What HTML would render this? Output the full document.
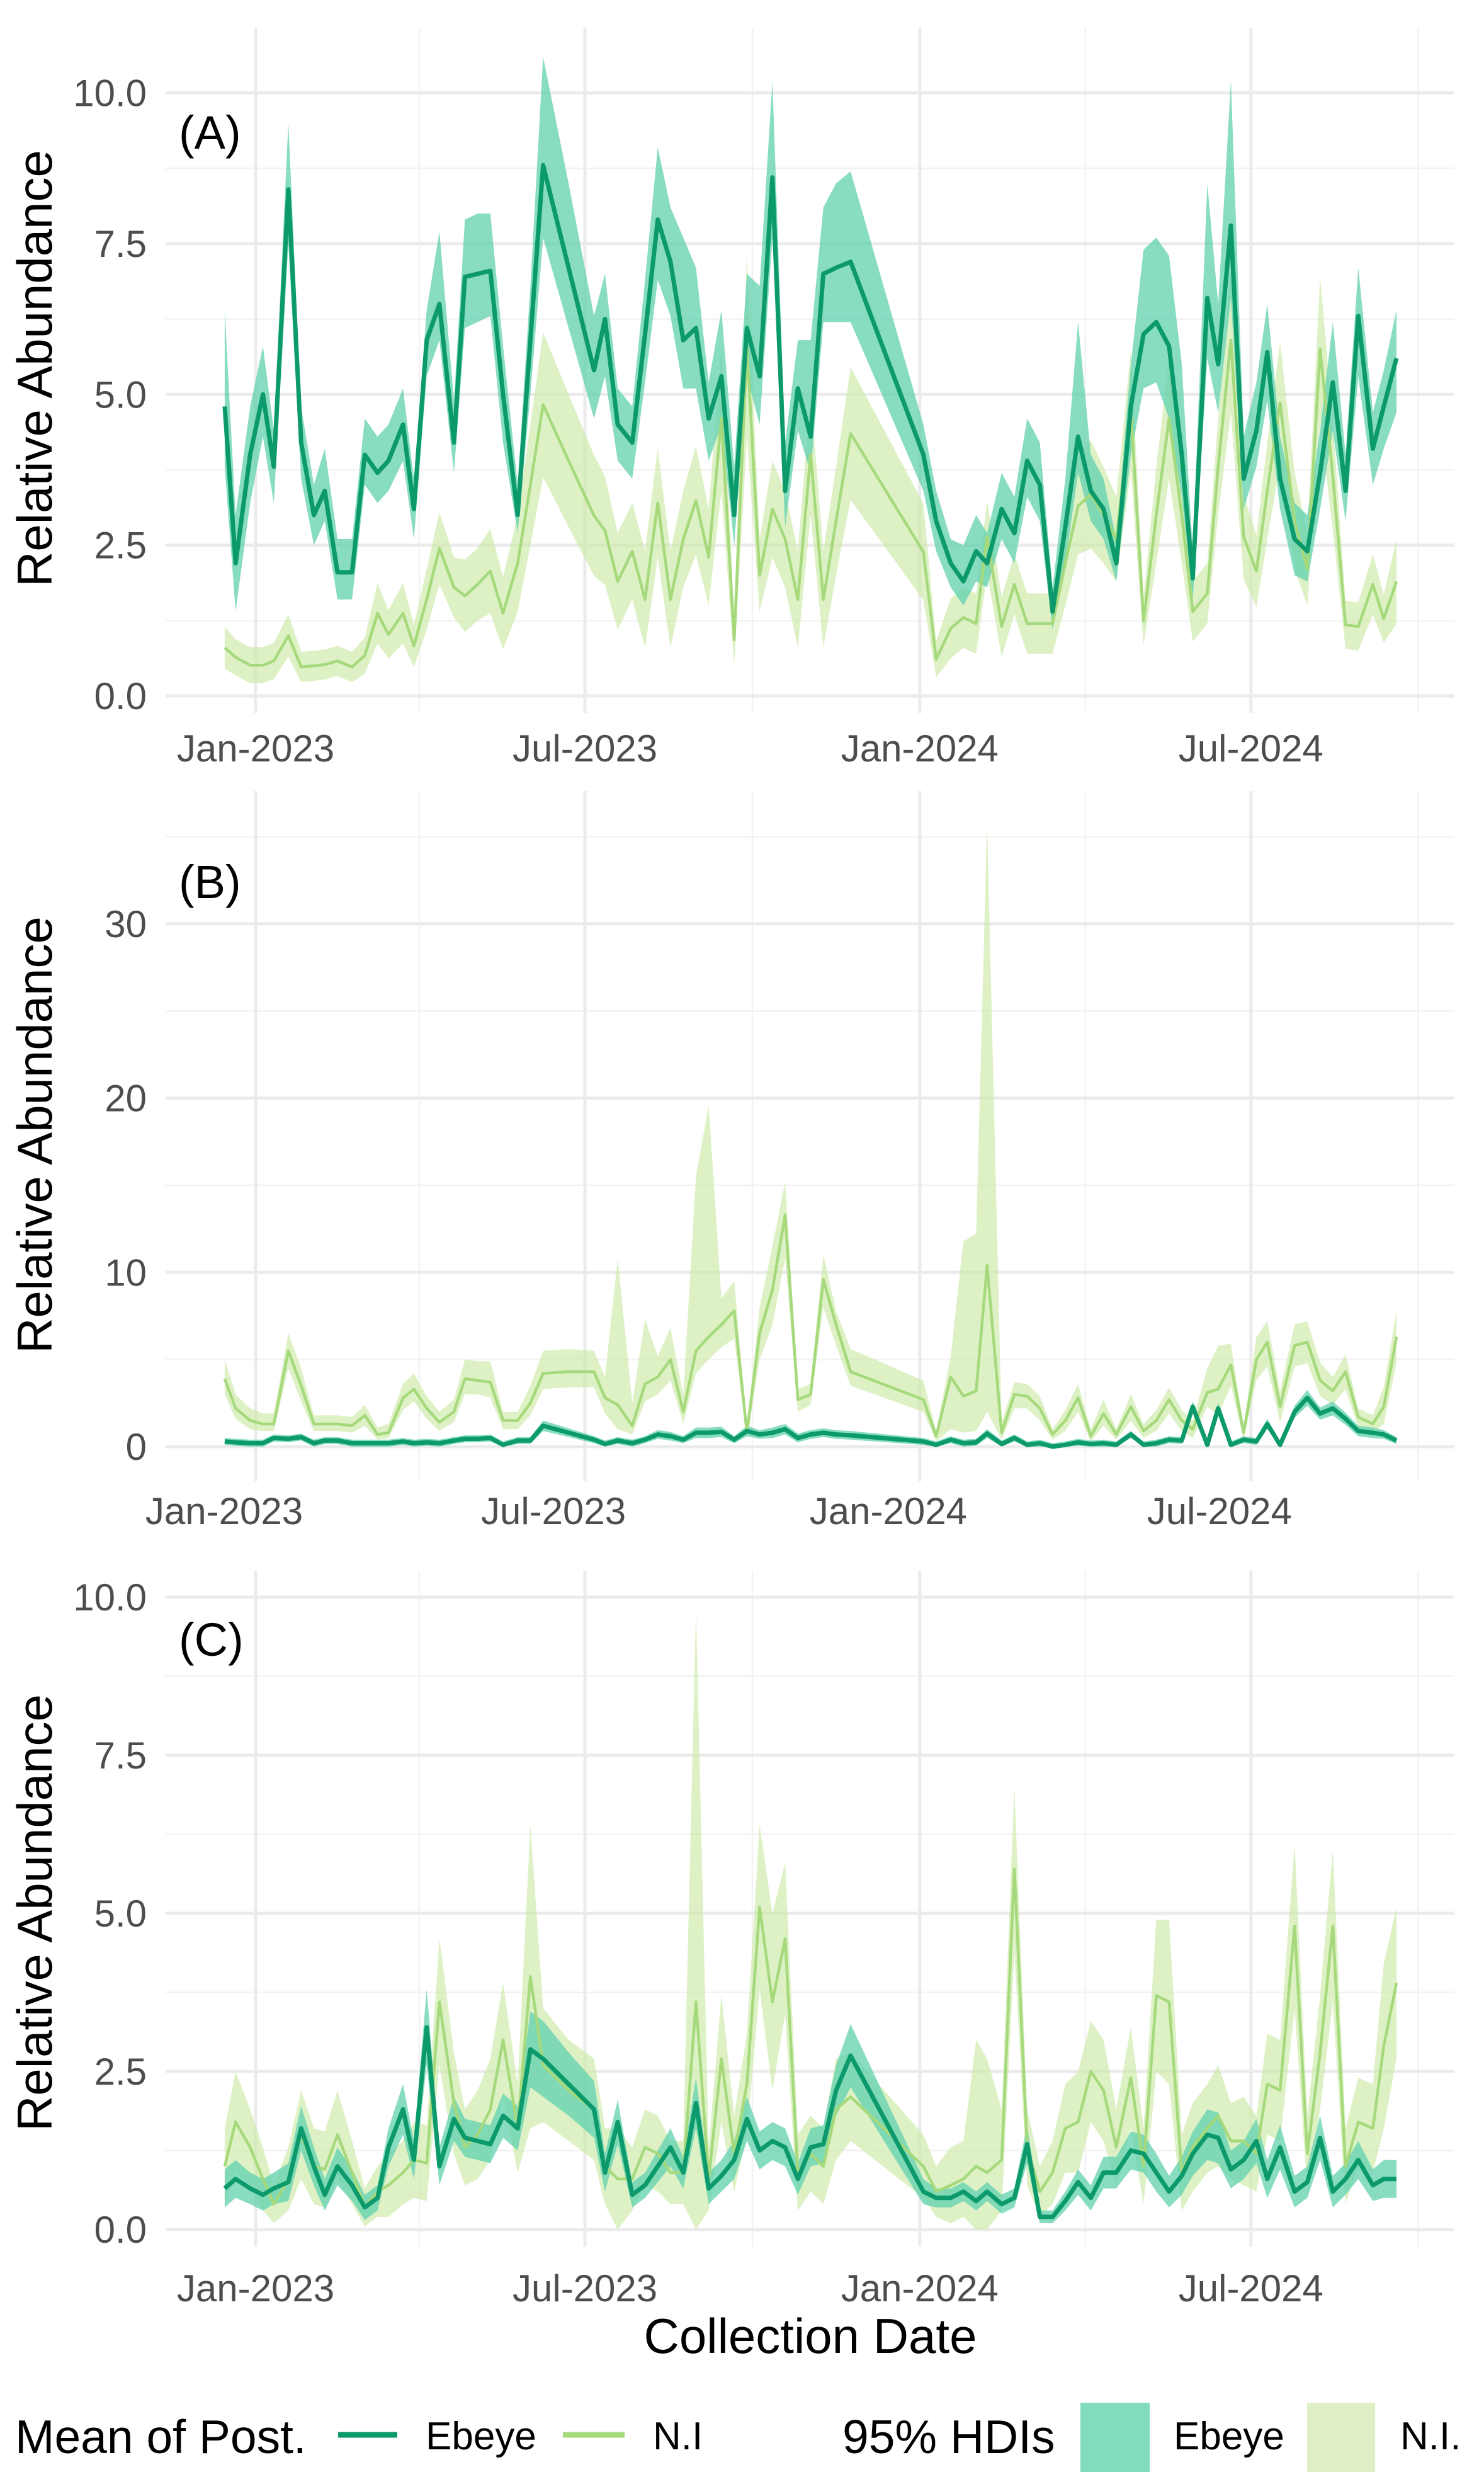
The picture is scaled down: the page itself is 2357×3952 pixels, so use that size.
<!DOCTYPE html>
<html><head><meta charset="utf-8"><style>
html,body{margin:0;padding:0;background:#fff;}
svg{display:block;font-family:"Liberation Sans",sans-serif;}
</style></head><body>
<svg id="chart" width="2357" height="3952" viewBox="0 0 2357 3952" xmlns="http://www.w3.org/2000/svg">
<rect x="0" y="0" width="2357" height="3952" fill="#fff"/>
<g id="grid"></g><g id="marks"></g><g id="labels"></g>
<text x="1287" y="3736" font-size="78" text-anchor="middle" fill="#000">Collection Date</text>
<g>
<text x="24" y="3895" font-size="75" fill="#000">Mean of Post.</text>
<line x1="537" y1="3866" x2="631" y2="3866" stroke="#0c9a6c" stroke-width="9"/>
<text x="676" y="3889" font-size="62" fill="#000">Ebeye</text>
<line x1="894" y1="3866" x2="992" y2="3866" stroke="#a6d97c" stroke-width="9"/>
<text x="1037" y="3889" font-size="62" fill="#000">N.I</text>
<text x="1338" y="3895" font-size="75" fill="#000">95% HDIs</text>
<rect x="1716" y="3815" width="110" height="110" fill="#80dbbf"/>
<text x="1864" y="3889" font-size="62" fill="#000">Ebeye</text>
<rect x="2076" y="3815" width="108" height="110" fill="#def0c4"/>
<text x="2224" y="3889" font-size="62" fill="#000">N.I.</text>
</g>
</svg>
<script>
// days since 2023-01-01
const dates=[-17,-11,-3,4,10,18,25,32,38,45,53,60,67,73,81,87,94,101,109,115,122,129,136,144,151,158,172,186,192,199,207,214,221,228,235,242,249,256,263,270,277,284,291,298,305,312,319,327,367,374,382,389,396,402,410,417,424,431,438,445,452,459,466,473,481,488,495,502,509,515,523,529,536,543,550,556,563,571,578,585,592,599,606,614,620,627];
const xTickLabels=["Jan-2023","Jul-2023","Jan-2024","Jul-2024"];
const xTickDays=[0,181,365,547];
const xMinorDays=[90,273,456,639];
// Panel A
const aEbMean=[4.8,2.2,4.0,5.0,3.8,8.4,4.2,3.0,3.4,2.05,2.05,4.0,3.7,3.9,4.5,3.1,5.9,6.5,4.2,6.95,7.0,7.05,5.0,3.0,5.9,8.8,7.1,5.4,6.25,4.5,4.2,6.0,7.9,7.2,5.9,6.1,4.6,5.3,3.0,6.1,5.3,8.6,3.4,5.1,4.3,7.0,7.1,7.2,4.0,2.9,2.2,1.9,2.4,2.2,3.1,2.7,3.9,3.5,1.4,2.8,4.3,3.4,3.1,2.2,4.8,6.0,6.2,5.8,4.0,1.95,6.6,5.5,7.8,3.6,4.4,5.7,3.6,2.6,2.4,3.7,5.2,3.4,6.3,4.1,4.8,5.6];
const aEbLo=[3.8,1.4,3.2,4.3,3.2,7.5,3.6,2.5,2.9,1.6,1.6,3.5,3.2,3.4,3.9,2.6,5.3,5.9,3.7,6.1,6.2,6.3,4.2,2.7,5.0,7.6,6.1,4.6,5.3,3.9,3.6,5.2,6.9,6.3,5.1,5.1,3.9,4.5,2.5,5.3,4.5,7.6,2.8,4.4,3.7,6.2,6.2,6.2,3.4,2.4,1.8,1.5,1.9,1.8,2.6,2.2,3.3,2.9,1.1,2.2,3.7,2.9,2.6,1.9,4.0,5.1,5.2,4.6,3.3,1.6,5.6,4.7,6.6,3.1,3.8,4.9,3.1,2.0,1.9,3.1,4.4,2.9,5.3,3.5,4.1,4.7];
const aEbHi=[6.4,3.0,4.8,5.8,4.4,9.5,4.8,3.5,4.1,2.6,2.6,4.6,4.3,4.5,5.1,3.6,6.4,7.7,4.9,7.9,8.0,8.0,5.8,3.5,6.8,10.6,8.5,6.3,7.0,5.1,4.8,6.9,9.1,8.1,7.6,7.1,5.2,6.4,3.8,7.0,6.8,10.2,4.2,5.9,5.9,8.1,8.5,8.7,4.5,3.4,2.6,2.5,3.0,2.7,3.7,3.3,4.6,4.2,1.8,3.6,6.2,4.0,3.6,2.6,5.5,7.4,7.6,7.3,5.5,2.4,8.5,6.5,10.2,4.3,5.2,6.5,4.3,3.2,3.0,4.4,6.2,4.0,7.1,4.7,5.4,6.4];
const aNiMean=[0.8,0.64,0.51,0.51,0.58,1.0,0.48,0.5,0.52,0.58,0.48,0.67,1.37,1.02,1.37,0.83,1.6,2.45,1.8,1.66,1.85,2.07,1.37,2.2,3.5,4.83,3.9,2.99,2.74,1.9,2.4,1.6,3.2,1.6,2.6,3.24,2.3,4.6,0.93,5.8,2.0,3.1,2.6,1.6,4.0,1.6,2.9,4.35,2.39,0.61,1.12,1.3,1.2,2.64,1.15,1.85,1.2,1.2,1.2,2.2,3.15,3.34,3.0,2.6,4.73,1.24,3.0,4.6,3.0,1.4,1.7,3.8,5.9,2.64,2.07,3.4,4.86,2.9,2.1,5.75,3.65,1.18,1.15,1.85,1.28,1.9];
const aNiHw=[0.35,0.3,0.3,0.3,0.3,0.35,0.25,0.25,0.25,0.25,0.25,0.3,0.5,0.4,0.5,0.35,0.5,0.6,0.5,0.6,0.6,0.7,0.6,0.8,1.0,1.2,1.1,1.0,0.9,0.8,0.8,0.8,0.9,0.8,0.8,0.9,0.8,1.2,0.4,1.5,0.6,0.8,0.8,0.8,1.0,0.8,0.9,1.1,0.8,0.3,0.5,0.5,0.5,0.6,0.5,0.5,0.5,0.5,0.5,0.7,0.8,0.9,0.8,0.7,1.0,0.4,0.8,1.0,0.8,0.5,0.5,0.8,1.2,0.7,0.6,0.8,1.0,0.8,0.6,1.2,0.9,0.4,0.4,0.5,0.4,0.7];
// Panel B
const bEbMean=[0.3,0.25,0.2,0.2,0.5,0.45,0.55,0.2,0.35,0.35,0.2,0.2,0.2,0.2,0.3,0.2,0.25,0.2,0.35,0.45,0.45,0.5,0.1,0.35,0.35,1.2,0.8,0.4,0.15,0.35,0.2,0.4,0.7,0.6,0.4,0.8,0.8,0.85,0.4,0.9,0.7,0.8,1.0,0.5,0.7,0.8,0.7,0.65,0.3,0.1,0.4,0.2,0.25,0.75,0.15,0.5,0.1,0.2,0.0,0.1,0.25,0.15,0.2,0.1,0.7,0.1,0.2,0.4,0.35,2.3,0.1,2.2,0.1,0.4,0.3,1.3,0.1,2.0,2.8,1.9,2.2,1.6,0.9,0.8,0.7,0.35];
const bEbHw=[0.2,0.2,0.2,0.2,0.2,0.2,0.2,0.2,0.2,0.2,0.2,0.2,0.2,0.2,0.2,0.2,0.2,0.2,0.2,0.2,0.2,0.2,0.2,0.2,0.2,0.3,0.25,0.2,0.2,0.2,0.2,0.2,0.25,0.25,0.2,0.3,0.3,0.3,0.2,0.3,0.25,0.3,0.3,0.25,0.25,0.25,0.25,0.25,0.2,0.2,0.2,0.2,0.2,0.25,0.2,0.2,0.2,0.2,0.2,0.2,0.2,0.2,0.2,0.2,0.2,0.2,0.2,0.2,0.2,0.3,0.2,0.3,0.2,0.2,0.2,0.3,0.2,0.35,0.45,0.35,0.4,0.35,0.3,0.3,0.25,0.2];
const bNiMean=[3.9,2.2,1.5,1.3,1.3,5.5,3.5,1.3,1.3,1.3,1.2,1.8,0.7,0.8,2.8,3.3,2.2,1.4,2.0,3.9,3.8,3.7,1.5,1.5,2.5,4.2,4.3,4.3,2.8,2.4,1.2,3.6,4.0,5.0,2.0,5.5,6.3,7.0,7.8,0.8,6.5,9.0,13.3,2.7,3.0,9.6,7.0,4.3,2.7,0.6,4.0,2.9,3.2,10.4,0.8,3.0,2.9,2.2,0.7,1.5,2.8,0.6,1.9,0.7,2.3,0.9,1.5,2.7,1.5,1.0,3.1,3.3,4.7,0.8,5.0,6.0,2.3,5.8,6.0,3.8,3.2,4.3,1.7,1.3,2.3,6.3];
const bNiLo=[3.0,1.6,1.0,0.9,0.9,4.5,2.6,0.9,0.9,0.9,0.8,1.2,0.4,0.5,2.1,2.6,1.6,0.9,1.4,3.0,3.0,2.8,1.0,1.0,1.8,3.3,3.4,3.4,1.9,1.0,0.7,2.6,3.0,3.8,1.3,4.2,5.0,5.7,6.2,0.4,5.0,7.0,10.8,2.0,2.4,8.0,5.8,3.5,2.0,0.3,1.0,0.8,0.9,2.0,0.4,2.2,2.2,1.5,0.4,0.9,2.0,0.3,1.2,0.4,1.5,0.5,0.9,1.9,0.9,0.5,2.3,1.8,3.5,0.4,3.8,4.6,1.4,4.6,4.8,2.9,2.4,3.3,1.1,0.8,1.3,4.8];
const bNiHi=[5.0,3.0,2.2,1.9,1.9,6.5,4.5,1.8,1.8,1.8,1.7,2.4,1.1,1.3,3.6,4.2,2.9,2.0,2.7,5.0,4.9,4.9,2.0,2.0,3.5,5.5,5.6,5.5,4.0,10.8,2.5,7.3,5.2,6.8,3.0,15.5,19.6,8.5,9.5,1.2,8.0,11.5,15.2,3.3,3.6,11.0,7.8,5.6,3.8,0.9,5.2,11.8,12.2,35.8,1.4,3.7,3.6,2.9,1.0,2.1,3.6,1.0,2.7,1.0,3.0,1.3,2.1,3.4,2.1,1.5,4.5,5.8,5.9,1.2,6.3,7.2,3.2,7.0,7.2,4.8,4.0,5.3,2.2,1.8,3.4,7.8];
// Panel C
const cEbMean=[0.65,0.8,0.65,0.55,0.65,0.75,1.6,1.0,0.55,1.0,0.7,0.35,0.5,1.3,1.9,1.1,3.2,1.0,1.75,1.45,1.4,1.35,1.8,1.6,2.85,2.7,2.3,1.9,0.9,1.7,0.55,0.7,1.0,1.3,0.9,2.0,0.65,0.85,1.1,1.75,1.25,1.4,1.3,0.8,1.3,1.35,2.2,2.75,0.6,0.5,0.5,0.6,0.45,0.6,0.4,0.5,1.35,0.2,0.2,0.45,0.75,0.5,0.9,0.9,1.25,1.2,0.9,0.6,0.85,1.2,1.5,1.45,0.95,1.1,1.4,0.8,1.3,0.6,0.75,1.45,0.6,0.8,1.1,0.7,0.8,0.8];
const cEbHw=[0.3,0.3,0.25,0.25,0.25,0.3,0.35,0.3,0.25,0.3,0.25,0.2,0.2,0.3,0.4,0.3,0.6,0.3,0.35,0.3,0.3,0.3,0.35,0.35,0.6,0.6,0.5,0.45,0.3,0.35,0.2,0.2,0.25,0.3,0.25,0.4,0.25,0.25,0.3,0.35,0.3,0.3,0.3,0.25,0.3,0.3,0.4,0.5,0.2,0.15,0.15,0.15,0.15,0.15,0.15,0.15,0.3,0.1,0.1,0.15,0.2,0.2,0.25,0.25,0.3,0.3,0.3,0.25,0.3,0.35,0.4,0.4,0.3,0.3,0.35,0.3,0.35,0.25,0.25,0.35,0.25,0.25,0.3,0.25,0.3,0.3];
const cNiMean=[1.0,1.7,1.3,0.8,0.4,0.8,1.5,1.0,0.95,1.5,0.9,0.35,0.6,0.7,0.9,1.1,1.05,3.6,2.0,1.3,1.5,1.9,3.0,1.6,4.0,2.6,2.2,1.9,1.0,0.8,0.8,1.3,1.2,0.9,0.9,3.6,0.8,2.7,1.2,2.3,5.1,3.6,4.6,0.9,1.2,1.0,1.9,2.1,1.0,0.6,0.7,0.8,1.0,0.9,1.1,5.7,1.3,0.6,0.9,1.6,1.7,2.5,2.2,1.3,2.4,1.0,3.7,3.6,0.9,1.3,1.6,1.8,1.4,1.4,1.2,2.3,2.2,4.8,1.2,2.8,4.8,1.0,1.7,1.6,2.9,3.9];
const cNiHw=[0.6,0.8,0.6,0.5,0.3,0.5,0.7,0.6,0.6,0.7,0.5,0.3,0.4,0.5,0.5,0.6,0.6,1.0,0.8,0.6,0.7,0.8,0.9,0.7,2.4,0.9,0.8,0.8,0.6,0.8,0.5,0.6,0.6,0.5,0.5,6.2,0.5,1.0,0.6,0.8,1.3,1.4,1.2,0.6,0.6,0.6,0.8,0.7,0.5,0.4,0.6,0.6,2.0,1.8,0.8,1.3,0.6,0.4,0.5,0.7,0.8,0.8,0.8,0.6,0.8,0.6,1.2,1.3,0.6,0.7,0.7,0.8,0.6,0.7,0.6,0.8,0.8,1.3,0.6,0.9,1.2,0.6,0.7,0.7,1.3,1.2];

const NS="http://www.w3.org/2000/svg";
const gGrid=document.getElementById('grid'),gMarks=document.getElementById('marks'),gLab=document.getElementById('labels');
function xPos(d){return 406+d*2.890;}
function mk(tag,attrs,parent){const e=document.createElementNS(NS,tag);for(const k in attrs)e.setAttribute(k,attrs[k]);parent.appendChild(e);return e;}
const panels=[
 {id:'a',label:'(A)',zero:1105,ppu:95.75,top:44,bottom:1132,majors:[0,2.5,5,7.5,10],minors:[1.25,3.75,6.25,8.75],fmt:v=>v.toFixed(1),tickY:1209,tickShift:0,labelY:236,titleY:585,
  eb:[aEbMean,aEbLo,aEbHi],ni:[aNiMean,aNiMean.map((m,i)=>m-aNiHw[i]),aNiMean.map((m,i)=>m+aNiHw[i])]},
 {id:'b',label:'(B)',zero:2297,ppu:27.67,top:1256,bottom:2352,majors:[0,10,20,30],minors:[5,15,25,35],fmt:v=>String(v),tickY:2420,tickShift:-50,labelY:1426,titleY:1802,
  eb:[bEbMean,bEbMean.map((m,i)=>Math.max(0,m-bEbHw[i])),bEbMean.map((m,i)=>m+bEbHw[i])],ni:[bNiMean,bNiLo,bNiHi]},
 {id:'c',label:'(C)',zero:3540,ppu:100.4,top:2494,bottom:3567,majors:[0,2.5,5,7.5,10],minors:[1.25,3.75,6.25,8.75],fmt:v=>v.toFixed(1),tickY:3654,tickShift:0,labelY:2629,titleY:3037,
  eb:[cEbMean,cEbMean.map((m,i)=>Math.max(0,m-cEbHw[i])),cEbMean.map((m,i)=>m+cEbHw[i])],ni:[cNiMean,cNiMean.map((m,i)=>Math.max(0,m-cNiHw[i])),cNiMean.map((m,i)=>m+cNiHw[i])]}
];
panels.forEach(p=>{
 const y=v=>p.zero-v*p.ppu;
 const L=263,R=2310;
 p.minors.forEach(v=>{const e=mk('line',{x1:L,x2:R,y1:y(v),y2:y(v),stroke:'#f2f2f2','stroke-width':2.5},gGrid);
  });
 xMinorDays.forEach(d=>{const e=mk('line',{x1:xPos(d),x2:xPos(d),y1:p.top,y2:p.bottom,stroke:'#f2f2f2','stroke-width':2.5},gGrid);
  });
 p.majors.forEach(v=>{const e=mk('line',{x1:L,x2:R,y1:y(v),y2:y(v),stroke:'#ebebeb','stroke-width':5},gGrid);
  
  const t=mk('text',{x:233,y:y(v)+21,'font-size':60,'text-anchor':'end',fill:'#4d4d4d'},gLab);t.textContent=p.fmt(v);
  });
 xTickDays.forEach((d,i)=>{const e=mk('line',{x1:xPos(d),x2:xPos(d),y1:p.top,y2:p.bottom,stroke:'#ebebeb','stroke-width':5},gGrid);
  
  const t=mk('text',{x:xPos(d)+p.tickShift,y:p.tickY,'font-size':60,'text-anchor':'middle',fill:'#4d4d4d'},gLab);t.textContent=xTickLabels[i];
  });
 const yt=mk('text',{x:0,y:0,'font-size':78,'text-anchor':'middle',fill:'#000',transform:`translate(82,${p.titleY}) rotate(-90)`},gLab);
 yt.textContent='Relative Abundance';
 
 const pl=mk('text',{x:284,y:p.labelY,'font-size':74,fill:'#000'},gLab);pl.textContent=p.label;
 
 const band=(arr,fill,op,name)=>{const[m,lo,hi]=arr;let s='';
  dates.forEach((d,i)=>{s+=(i?'L':'M')+xPos(d).toFixed(1)+','+y(hi[i]).toFixed(1);});
  for(let i=dates.length-1;i>=0;i--)s+='L'+xPos(dates[i]).toFixed(1)+','+y(lo[i]).toFixed(1);
  const e=mk('path',{d:s+'Z',fill:fill,'fill-opacity':op},gMarks);
  };
 const line=(m,col,w,name)=>{const pts=dates.map((d,i)=>xPos(d).toFixed(1)+','+y(m[i]).toFixed(1)).join(' ');
  const e=mk('polyline',{points:pts,fill:'none',stroke:col,'stroke-width':w,'stroke-linejoin':'round'},gMarks);
  };
 band(p.ni,'#cbe9a6',0.65,'panel-'+p.id+'-ni-hdi-band');
 band(p.eb,'#5fd0ad',0.75,'panel-'+p.id+'-ebeye-hdi-band');
 line(p.ni[0],'#a6d97c',4.5,'panel-'+p.id+'-ni-mean-line');
 line(p.eb[0],'#0c9a6c',7,'panel-'+p.id+'-ebeye-mean-line');
});
</script>
</body></html>
